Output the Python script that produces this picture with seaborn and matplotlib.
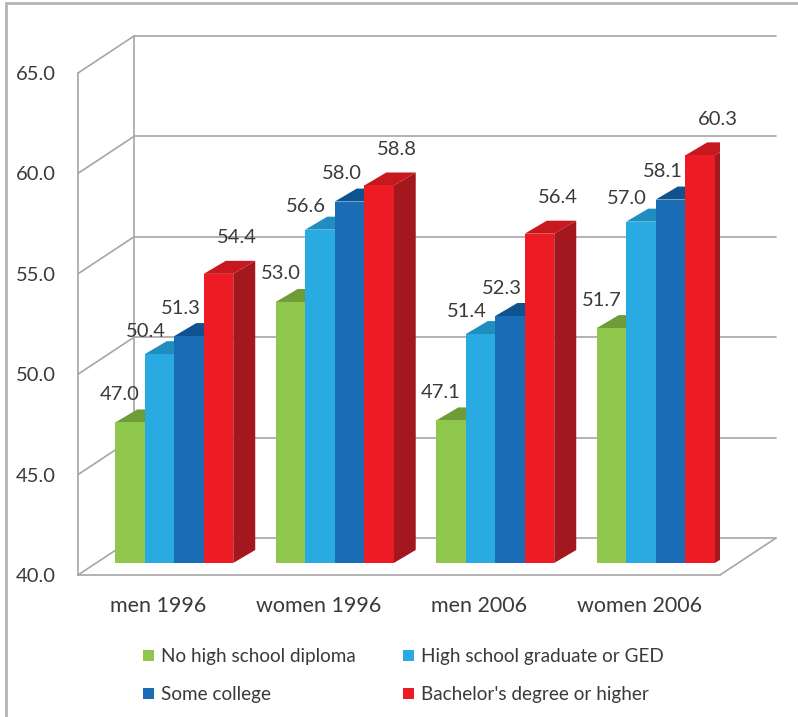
import numpy as np
import pandas as pd
import matplotlib
matplotlib.use("Agg")
import matplotlib.pyplot as plt
import matplotlib.transforms as mtransforms
from matplotlib.patches import Polygon
from matplotlib.lines import Line2D
import seaborn as sns

# data
groups = ["men 1996", "women 1996", "men 2006", "women 2006"]
levels = ["No high school diploma", "High school graduate or GED",
          "Some college", "Bachelor's degree or higher"]
no_diploma = [47.0, 53.0, 47.1, 51.7]
hs_grad = [50.4, 56.6, 51.4, 57.0]
some_college = [51.3, 58.0, 52.3, 58.1]
bachelor = [54.4, 58.8, 56.4, 60.3]
y_ticks = [40.0, 45.0, 50.0, 55.0, 60.0, 65.0]

# styling
front_cols = ["#8fc64c", "#29abe2", "#1a6cb5", "#ed1c24"]
top_cols = ["#6d9c38", "#1f8dc0", "#0f5290", "#c8181f"]
side_cols = ["#6a9636", "#1c84b6", "#0e4a85", "#a3181e"]
label_off = [(-10, 28), (-14, 23), (-8, 28), (18, 36)]  # pixels
grid_col = "#a6a6a6"
text_col = "#3a3a3a"
FS_NUM = 14.5
FS_CAT = 15.5
FS_LEG = 13.6

rows = []
for level, vals in zip(levels, [no_diploma, hs_grad, some_college, bachelor]):
    for g, v in zip(groups, vals):
        rows.append({"group": g, "level": level, "value": v})
df = pd.DataFrame(rows)

sns.set_style("white")
plt.rcParams['font.family'] = ['Lato', 'DejaVu Sans']

W, H = 798, 717
fig = plt.figure(figsize=(W / 100, H / 100), dpi=100)
ax = fig.add_axes([78 / W, 142 / H, 642 / W, 502 / H])

sns.barplot(data=df, x="group", y="value", hue="level", order=groups,
            hue_order=levels, palette=front_cols, saturation=1,
            width=0.735, gap=0, linewidth=0, ax=ax)

ax.set_xlim(-0.5, 3.5)
ax.set_ylim(40, 65)
base = 40

# pseudo 3D geometry (in data units)
px_x = 642 / 4.0
px_y = 502 / 25.0
DX, DY = 56 / px_x, 37 / px_y        # wall depth
dx, dy = 22 / px_x, 13 / px_y        # bar depth

shift = ax.transData + mtransforms.ScaledTranslation(16 / 100, 12 / 100,
                                                    fig.dpi_scale_trans)

# back wall, gridlines and floor
for yt in y_ticks:
    ax.plot([-0.5, -0.5 + DX], [yt, yt + DY], color=grid_col, lw=1.2,
            clip_on=False, zorder=1)
    ax.plot([-0.5 + DX, 3.5 + DX], [yt + DY, yt + DY], color=grid_col,
            lw=1.2, clip_on=False, zorder=1)
ax.plot([-0.5 + DX, -0.5 + DX], [40 + DY, 65 + DY], color=grid_col, lw=1.2,
        clip_on=False, zorder=1)
ax.plot([3.5, 3.5 + DX], [40, 40 + DY], color=grid_col, lw=1.2,
        clip_on=False, zorder=1)

handles, labels = ax.get_legend_handles_labels()
ax.get_legend().remove()

for i, cont in enumerate(ax.containers):
    for bar in cont:
        x0, w, v = bar.get_x(), bar.get_width(), bar.get_height()
        x1 = x0 + w
        bar.set_y(base)
        bar.set_height(v - base)
        bar.set_transform(shift)
        bar.set_zorder(3 + i * 0.1 + 0.05)
        side = Polygon([(x1, base), (x1 + dx, base + dy), (x1 + dx, v + dy),
                        (x1, v)], closed=True, transform=shift,
                       facecolor=side_cols[i], edgecolor="none",
                       zorder=3 + i * 0.1)
        top = Polygon([(x0, v), (x1, v), (x1 + dx, v + dy), (x0 + dx, v + dy)],
                      closed=True, transform=shift, facecolor=top_cols[i],
                      edgecolor="none", zorder=3 + i * 0.1)
        ax.add_patch(side)
        ax.add_patch(top)
        ax.annotate(f"{v:.1f}", xy=(x0 + w / 2, v), xycoords=shift,
                    xytext=label_off[i], textcoords="offset pixels",
                    ha="center", va="center", fontsize=FS_NUM, color=text_col)

ax.set_yticks(y_ticks, labels=[f"{t:.1f}" for t in y_ticks])
ax.set_xticks(range(len(groups)), labels=groups)
ax.set_xticks(np.arange(-0.5, 4, 1), minor=True)
ax.tick_params(axis="x", which="major", length=0, pad=15, labelsize=FS_CAT,
               labelcolor=text_col)
ax.tick_params(axis="x", which="minor", length=5, width=1.2, color=grid_col)
ax.tick_params(axis="y", length=5, width=1.2, color=grid_col, pad=11,
               labelsize=FS_NUM, labelcolor=text_col)
ax.set_xlabel("")
ax.set_ylabel("")
for s in ["top", "right"]:
    ax.spines[s].set_visible(False)
for s in ["left", "bottom"]:
    ax.spines[s].set_color(grid_col)
    ax.spines[s].set_linewidth(1.2)

order = [0, 2, 1, 3]
fig.legend([handles[k] for k in order], [labels[k] for k in order], ncol=2,
           loc="upper left", bbox_to_anchor=(134 / W, 1 - 639 / H),
           frameon=False, handlelength=0.55, handleheight=0.55,
           handletextpad=0.4, columnspacing=2.5, labelspacing=1.1,
           borderpad=0, fontsize=FS_LEG, labelcolor=text_col)

# outer frame of the original image
fig.add_artist(Line2D([6 / W, 6 / W], [0, 1 - 3 / H], transform=fig.transFigure,
                      color="#b5b5b5", lw=2))
fig.add_artist(Line2D([6 / W, 1], [1 - 3 / H, 1 - 3 / H],
                      transform=fig.transFigure, color="#b5b5b5", lw=2))

fig.savefig("out.png", dpi=100)
